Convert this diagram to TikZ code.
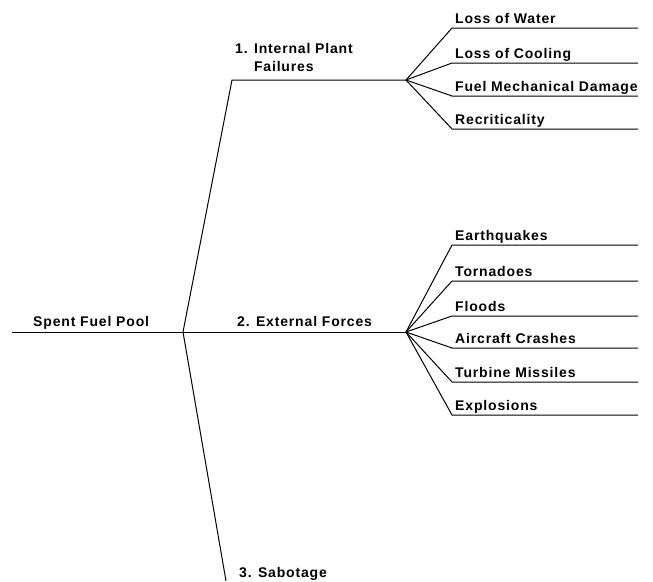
\documentclass[tikz,border=0pt]{standalone}
\usepackage{fontspec}
\setmainfont{Liberation Sans}[LetterSpace=6]
\usetikzlibrary{positioning}
\tikzset{
  branch/.style={line width=1pt, line join=round},
  lbl/.style={font=\bfseries\fontsize{14}{18}\selectfont, inner sep=0pt, anchor=base west, align=left}
}

\begin{document}
\begin{tikzpicture}[x=1pt, y=-1pt]
\useasboundingbox (0,0) rectangle (653,581);

% Fork points
\coordinate (start) at (12,332);
\coordinate (pool) at (183,332);
\coordinate (intbend) at (232,80);
\coordinate (int) at (406,80);
\coordinate (ext) at (406,332);
\coordinate (sab) at (226,581);

% Main labels
\node[lbl] (spent) at (33,326) {Spent Fuel Pool};
\node[lbl] (intlbl) at (235,71) {1. Internal Plant\\\hphantom{1. }Failures};
\node[lbl] (extlbl) at (237,326) {2. External Forces};
\node[lbl] (sablbl) at (239,577) {3. Sabotage};

% Main branches
\draw[branch] (start) -- (pool);
\draw[branch] (pool) -- (intbend) -- (int);
\draw[branch] (pool) -- (ext);
\draw[branch] (pool) -- (sab);

% Internal plant failures
\foreach \y/\txt [count=\i] in {28/Loss of Water, 63/Loss of Cooling, 96/Fuel Mechanical Damage, 129/Recriticality}{
  \coordinate (in\i a) at (452,\y);
  \coordinate (in\i b) at (638,\y);
  \node[lbl] (in\i) at (455,\y-5) {\txt};
  \draw[branch] (int) -- (in\i a) -- (in\i b);
}

% External forces
\foreach \y/\txt [count=\i] in {245/Earthquakes, 281/Tornadoes, 316/Floods, 348/Aircraft Crashes, 382/Turbine Missiles, 415/Explosions}{
  \coordinate (ex\i a) at (452,\y);
  \coordinate (ex\i b) at (638,\y);
  \node[lbl] (ex\i) at (455,\y-5) {\txt};
  \draw[branch] (ext) -- (ex\i a) -- (ex\i b);
}
\end{tikzpicture}
\end{document}
